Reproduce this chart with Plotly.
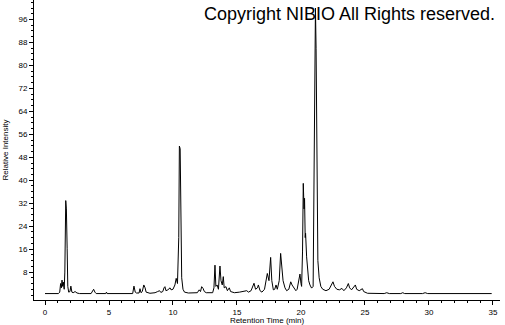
import plotly.graph_objects as go

# Chromatogram points (retention time in min, relative intensity %)
time_min = [
    0.0, 1.05, 1.15, 1.22, 1.28, 1.33, 1.38, 1.43, 1.50, 1.55, 1.62, 1.67, 1.73, 1.78, 1.85,
    1.95, 2.02, 2.10, 2.20, 2.35, 2.5, 2.7, 3.6, 3.72, 3.8, 3.9, 4.0, 4.75, 4.8, 4.85,
    6.85, 6.95, 7.05, 7.15, 7.35, 7.42, 7.5, 7.6, 7.72, 7.82, 7.9, 8.2, 8.6, 8.8, 8.95,
    9.05, 9.2, 9.3, 9.37, 9.45, 9.6, 9.77, 9.85, 10.0, 10.15, 10.25, 10.35, 10.45, 10.5,
    10.56, 10.62, 10.68, 10.78, 10.9, 11.2, 11.9, 12.05, 12.15, 12.24, 12.35, 12.45, 12.6,
    13.1, 13.2, 13.28, 13.35, 13.45, 13.55, 13.67, 13.75, 13.85, 13.93, 14.0, 14.14, 14.25,
    14.4, 14.5, 14.8, 15.2, 15.5, 15.76, 15.9, 16.1, 16.33, 16.45, 16.6, 16.67, 16.8, 16.95,
    17.15, 17.37, 17.5, 17.63, 17.72, 17.84, 17.95, 18.05, 18.15, 18.3, 18.41, 18.5, 18.6,
    18.75, 18.88, 19.05, 19.2, 19.3, 19.45, 19.6, 19.7, 19.85, 19.92, 20.0, 20.05, 20.12,
    20.18, 20.24, 20.28, 20.33, 20.36, 20.44, 20.52, 20.6, 20.7, 20.83, 20.95, 21.02, 21.08,
    21.13, 21.18, 21.22, 21.27, 21.32, 21.42, 21.55, 21.7, 21.95, 22.2, 22.35, 22.5, 22.62,
    22.8, 23.0, 23.2, 23.35, 23.55, 23.7, 23.8, 23.95, 24.1, 24.25, 24.35, 24.55, 24.8, 24.9,
    25.2, 26.5, 26.7, 26.9, 27.8, 27.95, 28.1, 29.5, 29.7, 29.9, 34.9,
]
intensity = [
    0.5, 0.5, 1.0, 4.0, 2.5, 5.2, 3.0, 4.5, 2.0, 8.0, 32.9, 30.0, 16.3, 3.0, 1.0,
    1.2, 3.1, 1.0, 0.8, 1.2, 0.7, 0.5, 0.5, 1.5, 2.0, 1.0, 0.5, 0.5, 1.0, 0.5,
    0.5, 3.1, 1.0, 0.7, 0.7, 2.2, 0.8, 1.2, 3.5, 2.5, 1.0, 0.6, 0.8, 1.2, 1.5,
    0.9, 1.2, 2.5, 2.9, 1.5, 1.8, 2.5, 1.8, 2.0, 3.5, 5.8, 4.0, 20.0, 51.9,
    51.0, 23.8, 6.0, 2.0, 1.0, 0.7, 0.8, 1.8, 1.2, 2.9, 2.3, 1.2, 0.8,
    0.8, 2.5, 10.4, 3.0, 3.5, 2.0, 10.1, 5.0, 3.5, 6.4, 2.5, 2.9, 1.5,
    2.5, 1.2, 0.8, 1.0, 1.2, 1.5, 1.0, 1.5, 4.1, 2.0, 2.5, 3.5, 1.5, 1.0,
    2.0, 7.5, 5.0, 13.1, 5.0, 1.8, 2.0, 3.5, 2.0, 5.0, 14.5, 8.0, 5.0,
    2.5, 1.5, 2.0, 4.6, 3.5, 2.5, 1.5, 2.0, 5.0, 7.3, 4.0, 3.0, 15.0,
    38.9, 30.0, 33.7, 20.0, 21.5, 13.3, 7.0, 5.0, 3.5, 2.4, 3.0, 40.0, 90.0,
    100.0, 86.0, 58.0, 25.0, 12.0, 6.0, 3.0, 2.0, 1.5, 2.0, 3.5, 4.6, 3.0,
    2.0, 1.8, 2.3, 1.5, 2.5, 4.0, 2.5, 1.8, 2.5, 3.5, 2.0, 1.5, 2.2, 1.2,
    0.6, 0.5, 0.8, 0.5, 0.5, 0.8, 0.5, 0.5, 0.8, 0.5, 0.5,
]

x_ticks = [0, 5, 10, 15, 20, 25, 30, 35]
y_ticks = [8, 16, 24, 32, 40, 48, 56, 64, 72, 80, 88, 96]

font_family = "Liberation Sans, Arial, sans-serif"

fig = go.Figure()
fig.add_trace(go.Scatter(
    x=time_min, y=intensity, mode="lines",
    line=dict(color="black", width=1),
    hoverinfo="skip", showlegend=False,
))

fig.update_layout(
    width=505, height=325,
    margin=dict(l=34, r=5, t=0, b=25),
    paper_bgcolor="white", plot_bgcolor="white",
    font=dict(family=font_family, size=8, color="black"),
    xaxis=dict(
        range=[-0.86, 35.55],
        tickvals=x_ticks, ticktext=[str(v) for v in x_ticks],
        ticks="outside", ticklen=4, tickwidth=1, tickcolor="black",
        minor=dict(dtick=1, tick0=0, ticks="outside", ticklen=2, tickcolor="black", showgrid=False),
        showline=True, linecolor="black", linewidth=1,
        showgrid=False, zeroline=False,
        tickfont=dict(size=8),
        title=dict(text="Retention Time (min)", font=dict(size=8), standoff=2),
        automargin=False,
    ),
    yaxis=dict(
        range=[-1.74, 102.8],
        tickvals=y_ticks, ticktext=[str(v) for v in y_ticks],
        ticks="outside", ticklen=4, tickwidth=1, tickcolor="black",
        minor=dict(dtick=2, tick0=0, ticks="outside", ticklen=2, tickcolor="black", showgrid=False),
        showline=True, linecolor="black", linewidth=1,
        showgrid=False, zeroline=False,
        tickfont=dict(size=8),
        title=dict(text="Relative Intensity", font=dict(size=8), standoff=8),
        automargin=False,
    ),
    annotations=[dict(
        text="Copyright NIBIO All Rights reserved.",
        xref="paper", yref="paper", x=0.9936, y=0.953,
        xanchor="right", yanchor="middle", showarrow=False,
        font=dict(family=font_family, size=18, color="black"),
    )],
)

fig.write_html("out.html")
